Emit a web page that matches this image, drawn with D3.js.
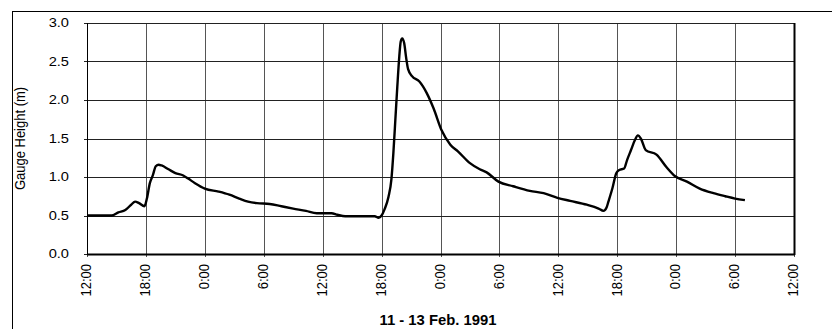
<!DOCTYPE html>
<html><head><meta charset="utf-8">
<script src="https://cdn.jsdelivr.net/npm/d3@7"></script>
<style>
html,body{margin:0;padding:0;background:#fff;}
svg{display:block;font-family:"Liberation Sans",Arial,sans-serif;}
</style></head>
<body>
<script>
// Hours after 11 Feb 1991 12:00
const hours = [0,2.5,3.2,3.9,4.5,4.9,5.3,5.85,6.1,6.4,6.7,7.0,7.3,7.6,8.3,9.0,9.8,10.3,11.0,12.0,13.4,14.5,15.5,16.4,17.3,18.6,19.8,21.0,22.3,23.4,24.9,25.5,26.3,29.3,29.7,30.0,30.3,30.7,31.0,31.2,31.4,31.6,31.8,31.95,32.1,32.3,32.5,32.7,33.1,33.85,34.6,35.3,36.1,37.0,37.8,39.0,40.0,40.7,41.9,43.4,45.1,46.5,47.9,49.2,50.9,52.1,52.6,52.9,53.1,53.5,53.9,54.2,54.7,55.0,55.4,55.8,56.1,56.4,56.9,58.0,59.0,59.9,61.1,62.4,63.8,65.0,66.0,67.0];
const gaugeHeight = [0.50,0.50,0.54,0.57,0.64,0.68,0.66,0.62,0.72,0.92,1.02,1.14,1.16,1.15,1.10,1.05,1.02,0.98,0.92,0.85,0.81,0.77,0.72,0.68,0.66,0.65,0.62,0.59,0.56,0.53,0.53,0.51,0.49,0.49,0.47,0.50,0.58,0.74,0.97,1.31,1.74,2.17,2.56,2.76,2.80,2.74,2.55,2.40,2.31,2.24,2.09,1.89,1.61,1.42,1.33,1.18,1.10,1.06,0.94,0.88,0.82,0.79,0.73,0.69,0.64,0.59,0.56,0.60,0.68,0.85,1.05,1.09,1.11,1.22,1.35,1.48,1.54,1.50,1.35,1.29,1.13,1.01,0.94,0.85,0.79,0.75,0.72,0.70];
const yTicks = [0,0.5,1.0,1.5,2.0,2.5,3.0];
const startTime = new Date(1991,1,11,12,0);
const endTime = new Date(1991,1,14,12,0);
const yTitle = "Gauge Height (m)";
const xTitle = "11 - 13 Feb. 1991";

const W = 832, H = 329;
const m = {left:87, right:794, top:23, bottom:254};
const svg = d3.select("body").append("svg").attr("width",W).attr("height",H);

// outer frame
svg.append("rect").attr("x",12.5).attr("y",11.5).attr("width",W).attr("height",H)
  .attr("fill","none").attr("stroke","#000").attr("stroke-width",1);

const x = d3.scaleTime().domain([startTime,endTime]).range([m.left,m.right]);
const y = d3.scaleLinear().domain([0,3]).range([m.bottom,m.top]);
const data = hours.map((h,i)=>({t:new Date(startTime.getTime()+h*3600000), v:gaugeHeight[i]}));
const xTickVals = d3.timeHour.every(6).range(startTime, new Date(endTime.getTime()+1));

// grid
svg.append("g").selectAll("line").data(xTickVals).join("line")
  .attr("x1",d=>Math.round(x(d))+0.5).attr("x2",d=>Math.round(x(d))+0.5)
  .attr("y1",m.top).attr("y2",m.bottom+3)
  .attr("stroke","#555").attr("stroke-width",1);
svg.append("g").selectAll("line").data(yTicks).join("line")
  .attr("x1",m.left-3).attr("x2",m.right)
  .attr("y1",d=>Math.round(y(d))+0.5).attr("y2",d=>Math.round(y(d))+0.5)
  .attr("stroke","#222").attr("stroke-width",1);

// axes frame
svg.append("line").attr("x1",m.left+0.5).attr("x2",m.left+0.5).attr("y1",m.top).attr("y2",m.bottom)
  .attr("stroke","#000");
svg.append("line").attr("x1",m.left).attr("x2",m.right+1).attr("y1",m.bottom+0.5).attr("y2",m.bottom+0.5)
  .attr("stroke","#000").attr("stroke-width",2);
svg.append("line").attr("x1",m.right+0.5).attr("x2",m.right+0.5).attr("y1",m.top).attr("y2",m.bottom+1)
  .attr("stroke","#000").attr("stroke-width",2);

// y tick labels
svg.append("g").selectAll("text").data(yTicks).join("text")
  .attr("transform",d=>`translate(69,${y(d)+4.3}) scale(1.22,1)`)
  .attr("text-anchor","end").attr("font-size",12).attr("fill","#000")
  .text(d=>d3.format(".1f")(d));

// x tick labels
const fmt = d3.timeFormat("%-H:%M");
svg.append("g").selectAll("text").data(xTickVals).join("text")
  .attr("transform",d=>`translate(${x(d)},264) scale(1.12,1) rotate(-90)`)
  .attr("x",0).attr("y",3.8)
  .attr("text-anchor","end").attr("font-size",13).attr("fill","#000")
  .text(d=>fmt(d));

// titles
svg.append("text").attr("transform",`translate(25,${(m.top+m.bottom)/2}) scale(1.08,1) rotate(-90)`)
  .attr("text-anchor","middle").attr("font-size",13).attr("fill","#000").text(yTitle);
svg.append("text").attr("transform",`translate(438,325) scale(1.06,1)`)
  .attr("text-anchor","middle").attr("font-size",14).attr("font-weight","bold").attr("fill","#000").text(xTitle);

// line
const line = d3.line().x(d=>x(d.t)).y(d=>y(d.v)).curve(d3.curveMonotoneX);
svg.append("path").datum(data).attr("d",line).attr("fill","none")
  .attr("stroke","#000").attr("stroke-width",2.4).attr("stroke-linejoin","round");
</script>
</body></html>
